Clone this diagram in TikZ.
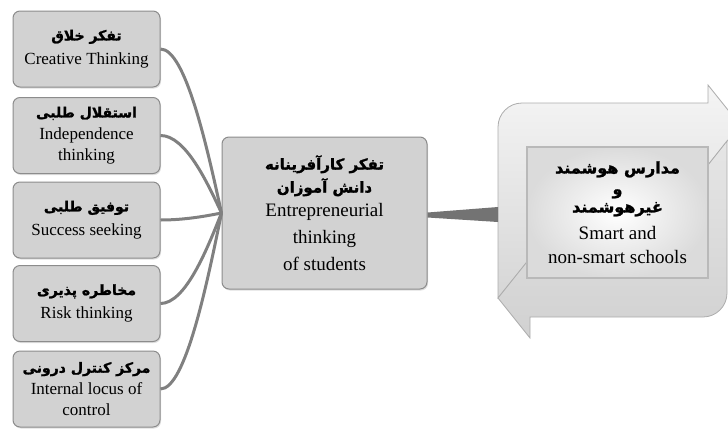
\documentclass[tikz,border=0pt]{standalone}
\usepackage{fontspec}
\setmainfont{Liberation Serif}
\newfontfamily\fafont[Script=Arabic,BoldFeatures={FakeBold=1.5}]{DejaVu Sans}
\TeXXeTstate=1
\newcommand{\fa}[1]{\fafont\bfseries\fontsize{#1}{#1}\selectfont}
\usetikzlibrary{calc,shadows}
\definecolor{boxfill}{RGB}{210,210,210}
\definecolor{boxline}{RGB}{140,140,140}
\definecolor{conn}{RGB}{128,128,128}
\definecolor{wedge}{RGB}{115,115,115}
\begin{document}
\begin{tikzpicture}[x=1pt,y=-1pt,
  leftbox/.style={draw=boxline, line width=1pt, fill=boxfill, rounded corners=7pt,
    minimum width=147pt, minimum height=76pt, align=center, inner sep=2pt,
    drop shadow={opacity=0.25,shadow xshift=1pt,shadow yshift=-1.5pt},
    font=\fontsize{17}{21}\selectfont},
  midbox/.style={leftbox, minimum width=205pt, minimum height=152pt,
    font=\fontsize{19}{27}\selectfont},
  link/.style={draw=conn, line width=3pt},
  arrowband/.style={draw=gray!65, line width=0.8pt}]
\clip (0,0) rectangle (728,432);
\useasboundingbox (0,0) rectangle (728,432);

% left boxes
\node[leftbox] (b1) at (86.5,49) {{\fa{14}\beginR تفکر خلاق\endR}\\[3pt] Creative Thinking};
\node[leftbox] (b2) at (86.5,135.5) {{\fa{14}\beginR استقلال طلبی\endR}\\[1pt] Independence\\ thinking};
\node[leftbox] (b3) at (86.5,220) {{\fa{14}\beginR توفیق طلبی\endR}\\[3pt] Success seeking};
\node[leftbox] (b4) at (86.5,303.5) {{\fa{14}\beginR مخاطره پذیری\endR}\\[3pt] Risk thinking};
\node[leftbox] (b5) at (86.5,389) {{\fa{14}\beginR مرکز کنترل درونی\endR}\\[1pt] Internal locus of\\ control};

% centre box
\node[midbox] (c) at (324.5,213) {{\fa{15}\beginR تفکر کارآفرینانه\endR}\\[-4pt] {\fa{15}\beginR دانش آموزان\endR}\\[-3pt] Entrepreneurial\\ thinking\\ of students};

% curved links
\foreach \b in {b1,b2,b3,b4,b5}{
  \draw[link] (\b.east) .. controls ($(\b.east)+(25,0)$) and ($(c.west)!0.4!($(\b.east)+(25,0)$)$) .. (c.west);
}

% right arrows frame
\shade[arrowband, top color=gray!8, bottom color=gray!32]
  (498,298) [rounded corners=24pt] -- (498,103) -- (620,103) [sharp corners] -- (708,103)
  -- (708,85) -- (740,125) -- (708,165) -- (708,147) -- (527,147) -- (527,262) -- cycle;
\shade[arrowband, top color=gray!20, bottom color=gray!36]
  (708,165) -- (727,141) [rounded corners=24pt] -- (727,317) -- (620,317) [sharp corners]
  -- (530,317) -- (530,338) -- (498,298) -- (530,258) -- (530,278) -- (708,278) -- cycle;
\coordinate (f1) at (498,207);
\coordinate (f2) at (498,222);

% inner box
\node[draw=gray!55, line width=2.5pt, inner color=white, outer color=gray!28,
  minimum width=181pt, minimum height=131pt, align=center, inner sep=2pt,
  font=\fontsize{19}{24}\selectfont] (r) at (617.5,212.5)
  {{\fa{16}\beginR مدارس هوشمند\endR}\\[-3pt] {\fa{16}\beginR و\endR}\\[-6pt] {\fa{16}\beginR غیرهوشمند\endR}\\[3pt] Smart and\\ non-smart schools};

% wedge connector
\fill[wedge] ($(c.east)+(0,-0.5)$) -- (f1) -- (f2) -- ($(c.east)+(0,4.5)$) -- cycle;
\end{tikzpicture}
\end{document}
